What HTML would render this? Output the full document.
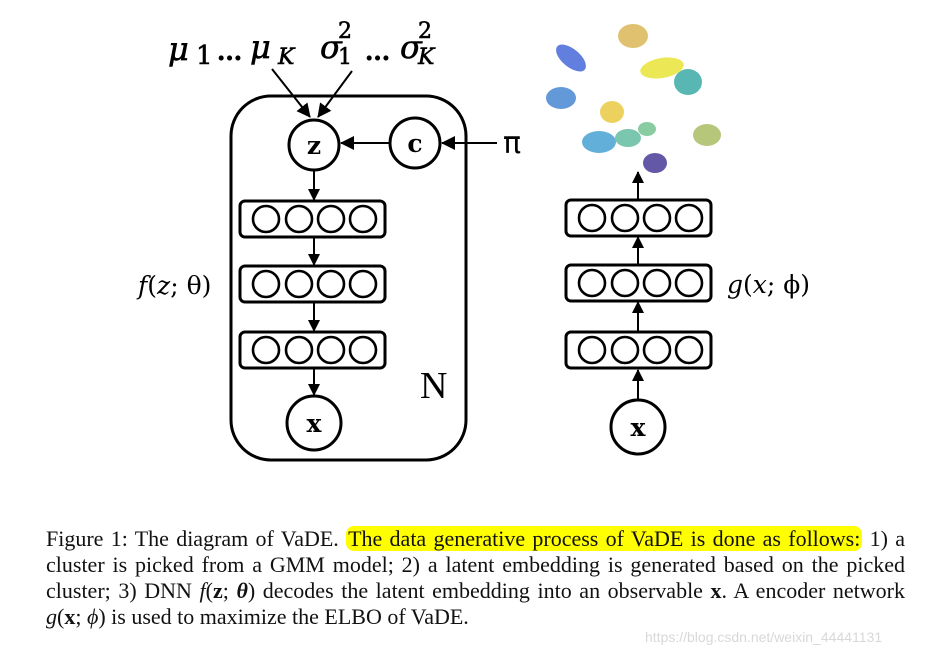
<!DOCTYPE html>
<html><head><meta charset="utf-8">
<style>
body{margin:0;background:#fff;width:925px;height:658px;overflow:hidden;position:relative;font-family:"Liberation Serif",serif;}
.ln{position:absolute;left:46px;width:859px;font-size:22px;line-height:26px;text-align:justify;text-align-last:justify;white-space:nowrap;color:#111;}
.hl{background:#ffff00;border-radius:8px;padding:0 2px;}
.wm{position:absolute;left:645px;top:629px;font-family:"Liberation Sans",sans-serif;font-size:14px;color:#d8d8d8;}
svg{position:absolute;left:0;top:0}
</style></head><body>
<svg width="925" height="500" viewBox="0 0 925 500">
<defs><marker id="a" markerWidth="12" markerHeight="12" refX="11" refY="6" orient="auto" markerUnits="userSpaceOnUse"><path d="M0,0 L12,6 L0,12 z" fill="#000"/></marker>
<marker id="b" markerWidth="14" markerHeight="14" refX="13" refY="7" orient="auto" markerUnits="userSpaceOnUse"><path d="M0,0 L14,7 L0,14 z" fill="#000"/></marker></defs>
<g fill="none" stroke="#000" stroke-width="3">
<rect x="231" y="96" width="235" height="364" rx="40"/>
<circle cx="314" cy="145" r="25"/>
<circle cx="415" cy="143" r="25"/>
<circle cx="314" cy="423" r="27"/>
<circle cx="638" cy="427" r="27"/>
<rect x="240" y="201" width="145" height="36" rx="5"/>
<rect x="240" y="266" width="145" height="36" rx="5"/>
<rect x="240" y="332" width="145" height="36" rx="5"/>
<rect x="566" y="200" width="145" height="36" rx="5"/>
<rect x="566" y="265" width="145" height="36" rx="5"/>
<rect x="566" y="332" width="145" height="36" rx="5"/>
</g>
<g fill="none" stroke="#000" stroke-width="2.6">
<circle cx="266" cy="219" r="13"/><circle cx="299" cy="219" r="13"/><circle cx="331" cy="219" r="13"/><circle cx="363" cy="219" r="13"/>
<circle cx="266" cy="284" r="13"/><circle cx="299" cy="284" r="13"/><circle cx="331" cy="284" r="13"/><circle cx="363" cy="284" r="13"/>
<circle cx="266" cy="350" r="13"/><circle cx="299" cy="350" r="13"/><circle cx="331" cy="350" r="13"/><circle cx="363" cy="350" r="13"/>
<circle cx="592" cy="218" r="13"/><circle cx="625" cy="218" r="13"/><circle cx="657" cy="218" r="13"/><circle cx="689" cy="218" r="13"/>
<circle cx="592" cy="283" r="13"/><circle cx="625" cy="283" r="13"/><circle cx="657" cy="283" r="13"/><circle cx="689" cy="283" r="13"/>
<circle cx="592" cy="350" r="13"/><circle cx="625" cy="350" r="13"/><circle cx="657" cy="350" r="13"/><circle cx="689" cy="350" r="13"/>
</g>
<g stroke="#000" stroke-width="2" fill="none">
<line x1="272" y1="69" x2="310" y2="117" marker-end="url(#b)"/>
<line x1="352" y1="71" x2="318" y2="117" marker-end="url(#b)"/>
<line x1="389" y1="143" x2="341" y2="143" marker-end="url(#b)"/>
<line x1="497" y1="143" x2="442" y2="143" marker-end="url(#b)"/>
<line x1="314" y1="170" x2="314" y2="200" marker-end="url(#a)"/>
<line x1="314" y1="237" x2="314" y2="265" marker-end="url(#a)"/>
<line x1="314" y1="302" x2="314" y2="331" marker-end="url(#a)"/>
<line x1="314" y1="368" x2="314" y2="395" marker-end="url(#a)"/>
<line x1="638" y1="400" x2="638" y2="370" marker-end="url(#a)"/>
<line x1="638" y1="332" x2="638" y2="302" marker-end="url(#a)"/>
<line x1="638" y1="265" x2="638" y2="237" marker-end="url(#a)"/>
<line x1="638" y1="200" x2="638" y2="172" marker-end="url(#a)"/>
</g>
<g font-family="'DejaVu Serif','Liberation Serif',serif" font-weight="bold" font-size="25" text-anchor="middle">
<text x="314" y="154">z</text><text x="415" y="152">c</text>
<text x="314" y="432">x</text><text x="638" y="436">x</text>
</g>
<g font-family="'DejaVu Serif',serif" font-size="32" font-style="italic" stroke="#000" stroke-width="0.6">
<text x="168" y="60">μ</text><text x="196" y="64" font-style="normal" font-size="26">1</text>
<text x="217" y="60" font-style="normal" font-weight="bold" font-size="24">...</text>
<text x="250" y="58">μ</text><text x="278" y="64" font-size="22">K</text>
<text x="320" y="58">σ</text><text x="338" y="38" font-style="normal" font-size="22">2</text><text x="338" y="64" font-style="normal" font-size="22">1</text>
<text x="365" y="60" font-style="normal" font-weight="bold" font-size="24">...</text>
<text x="400" y="58">σ</text><text x="418" y="38" font-style="normal" font-size="22">2</text><text x="418" y="64" font-style="italic" font-size="22">K</text>
</g>
<text x="503" y="153" font-family="'DejaVu Sans',sans-serif" font-size="30">π</text>
<text x="420" y="398" font-family="'Liberation Serif',serif" font-size="38">N</text>
<text x="138" y="294" font-family="'DejaVu Serif',serif" font-size="25"><tspan font-style="italic">f</tspan>(<tspan font-style="italic">z</tspan>; θ)</text>
<text x="727" y="293" font-family="'DejaVu Serif',serif" font-size="25"><tspan font-style="italic">g</tspan>(<tspan font-style="italic">x</tspan>; ϕ)</text>
<g opacity="0.8">
<ellipse cx="571" cy="58" rx="18" ry="9" transform="rotate(40 571 58)" fill="#3b5fd6"/>
<ellipse cx="633" cy="36" rx="15" ry="12" fill="#d9b24c"/>
<ellipse cx="662" cy="68" rx="22" ry="10" transform="rotate(-10 662 68)" fill="#e8e22a"/>
<ellipse cx="688" cy="82" rx="14" ry="13" fill="#2fa6a0"/>
<ellipse cx="561" cy="98" rx="15" ry="11" fill="#3e80d0"/>
<ellipse cx="612" cy="112" rx="12" ry="11" fill="#e8c636"/>
<ellipse cx="599" cy="142" rx="17" ry="11" fill="#3b9cd0"/>
<ellipse cx="628" cy="138" rx="13" ry="9" fill="#5ab89a"/>
<ellipse cx="647" cy="129" rx="9" ry="7" fill="#6ec08a"/>
<ellipse cx="707" cy="135" rx="14" ry="11" fill="#a5b85a"/>
<ellipse cx="655" cy="163" rx="12" ry="10" fill="#3b2f8f"/>
</g>
</svg>
<div class="ln" style="top:526px">Figure 1: The diagram of VaDE. <span class="hl">The data generative process of VaDE is done as follows:</span> 1) a</div>
<div class="ln" style="top:552px">cluster is picked from a GMM model; 2) a latent embedding is generated based on the picked</div>
<div class="ln" style="top:578px">cluster; 3) DNN <i>f</i>(<b>z</b>; <b><i>θ</i></b>) decodes the latent embedding into an observable <b>x</b>. A encoder network</div>
<div class="ln" style="top:604px;text-align-last:left"><i>g</i>(<b>x</b>; <i>ϕ</i>) is used to maximize the ELBO of VaDE.</div>
<div class="wm">https://blog.csdn.net/weixin_44441131</div>
</body></html>
